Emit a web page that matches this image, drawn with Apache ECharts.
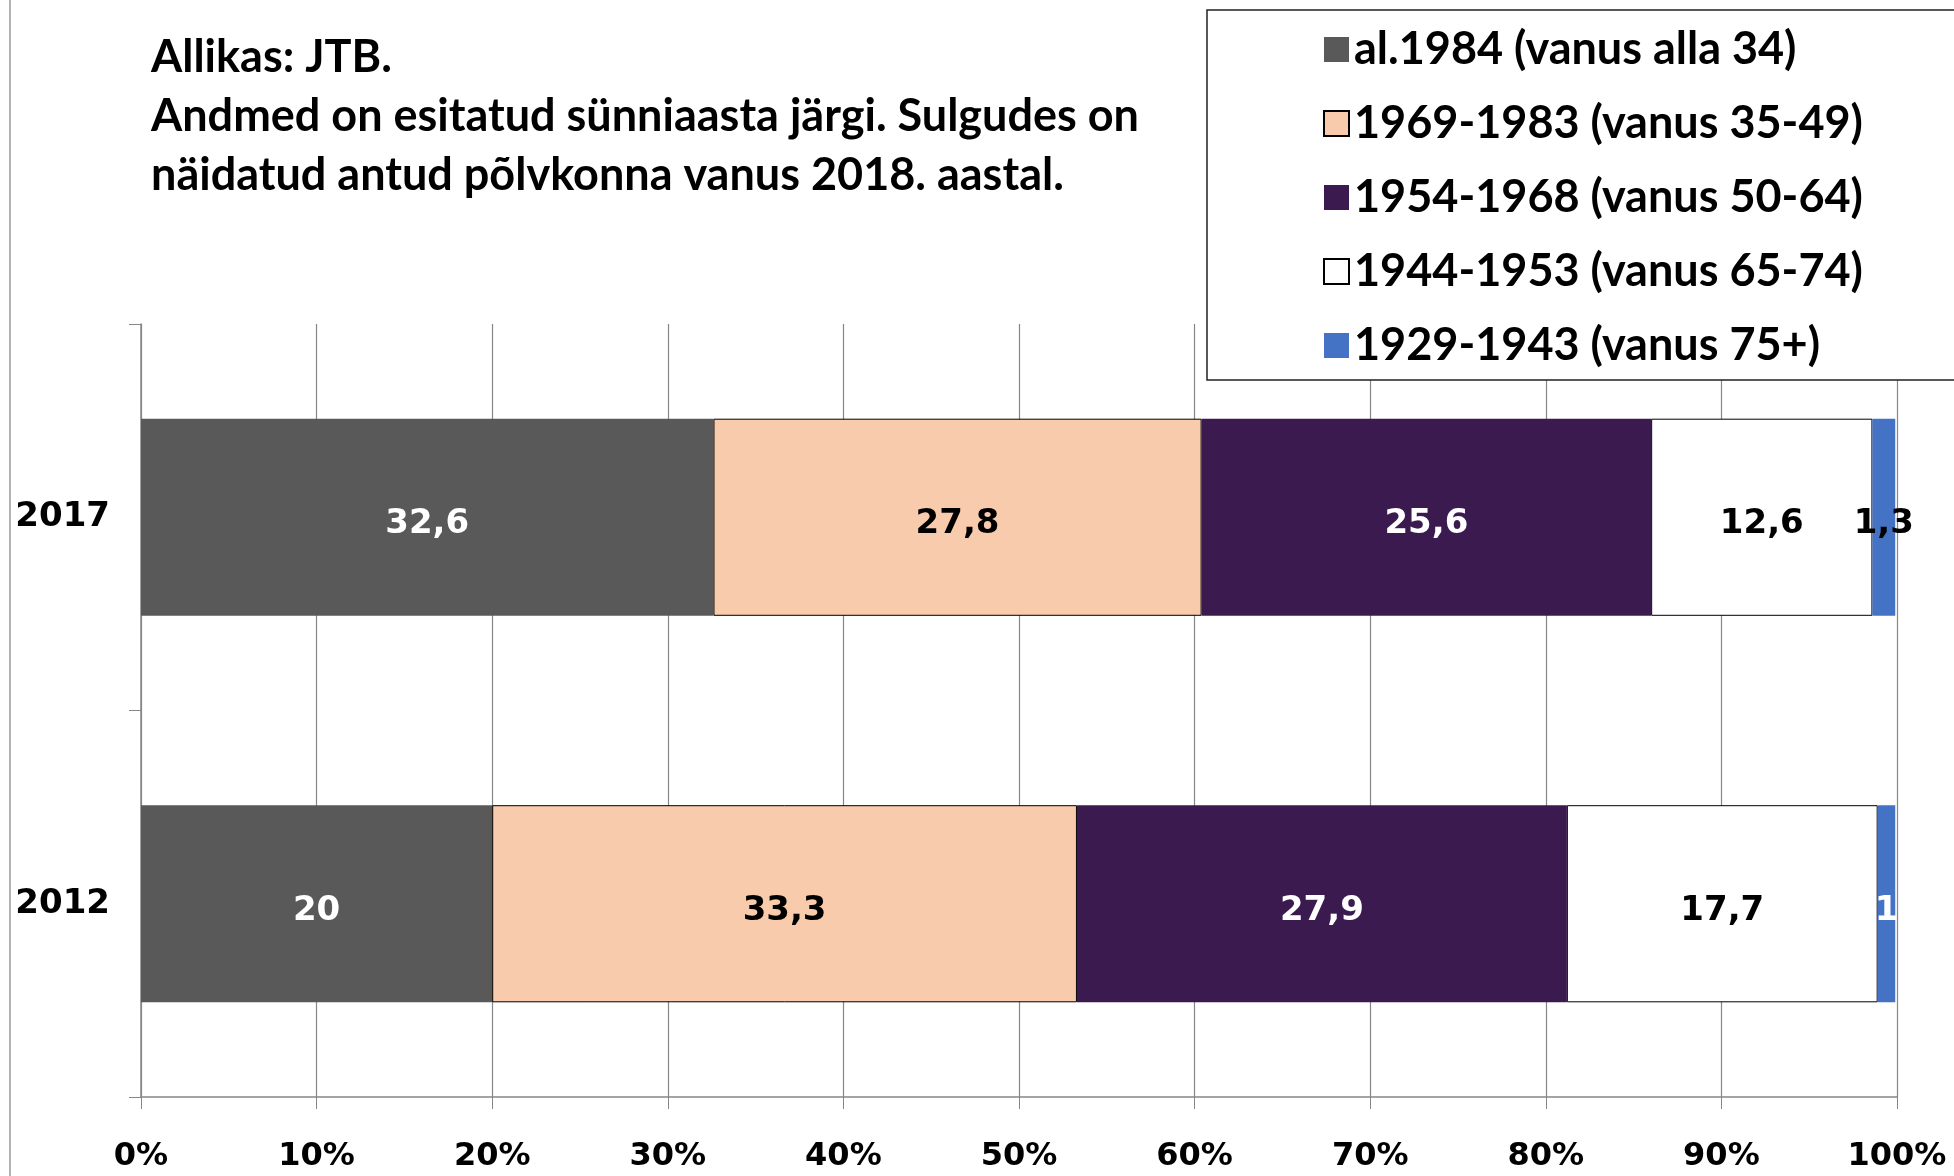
<!DOCTYPE html>
<html><head><meta charset="utf-8">
<script src="https://cdn.jsdelivr.net/npm/echarts@6/dist/echarts.min.js"></script>
<style>html,body{margin:0;padding:0;background:#fff}#c{width:1954px;height:1176px}</style>
</head><body><div id="c"></div>
<script>
const categories = ['2012', '2017'];
const seriesNames = ['al.1984 (vanus alla 34)', '1969-1983 (vanus 35-49)', '1954-1968 (vanus 50-64)', '1944-1953 (vanus 65-74)', '1929-1943 (vanus 75+)'];
const gen1984 = [20, 32.6];
const gen1969 = [33.3, 27.8];
const gen1954 = [27.9, 25.6];
const gen1944 = [17.7, 12.6];
const gen1929 = [1, 1.3];
const xTicks = [0, 10, 20, 30, 40, 50, 60, 70, 80, 90, 100];
const titleLines = ['Allikas: JTB.', 'Andmed on esitatud sünniaasta järgi. Sulgudes on', 'näidatud antud põlvkonna vanus 2018. aastal.'];

const colors = ['#595959', '#F8CBAD', '#3B1A4F', '#FFFFFF', '#4472C4'];
const borders = [null, '#000', null, '#000', null];
const labelColors = [['#fff','#fff'], ['#000','#000'], ['#fff','#fff'], ['#000','#000'], ['#fff','#000']];
const values = [gen1984, gen1969, gen1954, gen1944, gen1929];
const fmt = v => String(v).replace('.', ',');

const series = seriesNames.map((name, i) => ({
  name, type: 'bar', stack: 'total', barWidth: '51%',
  itemStyle: { color: colors[i], borderColor: borders[i] || colors[i], borderWidth: borders[i] ? 1 : 0 },
  label: { show: true, position: 'inside', offset: [0, 7], fontFamily: 'DejaVu Sans', fontWeight: 'bold', fontSize: 34,
           formatter: p => fmt(p.value) },
  data: values[i].map((v, j) => ({ value: v, label: { color: labelColors[i][j] } }))
}));

const chart = echarts.init(document.getElementById('c'), null, { renderer: 'canvas' });
chart.setOption({
  animation: false,
  backgroundColor: '#fff',
  title: { text: titleLines.join('\n'), left: 146, top: 23,
    textStyle: { fontFamily: 'Lato', fontWeight: 'bold', fontSize: 45, lineHeight: 59, color: '#000' } },
  legend: {
    orient: 'vertical', left: 1207, top: 10, padding: [17, 200, 12, 116],
    itemWidth: 25, itemHeight: 25, itemGap: 29, itemTextGap: 23,
    backgroundColor: '#fff', borderColor: '#222', borderWidth: 1.5, z: 10,
    textStyle: { fontFamily: 'Lato', fontWeight: 'bold', fontSize: 45, lineHeight: 40, color: '#000' },
    data: seriesNames.map(n => ({ name: n, icon: 'rect' }))
  },
  grid: { left: 141, right: 57, top: 324, bottom: 79, containLabel: false },
  xAxis: {
    type: 'value', min: 0, max: 100, interval: 10,
    axisLine: { show: true, lineStyle: { color: '#868686', width: 1.5 } },
    axisTick: { show: true, length: 12, lineStyle: { color: '#868686' } },
    splitLine: { show: true, lineStyle: { color: '#868686', width: 1.2 } },
    axisLabel: { margin: 44, formatter: '{value}%', fontFamily: 'DejaVu Sans', fontWeight: 'bold', fontSize: 32, color: '#000',
                 customValues: xTicks }
  },
  yAxis: {
    type: 'category', data: categories,
    axisLine: { show: true, lineStyle: { color: '#868686', width: 1.5 } },
    axisTick: { show: true, length: 12, lineStyle: { color: '#868686' } },
    axisLabel: { margin: 31, padding: [14, 0, 0, 0], fontFamily: 'DejaVu Sans', fontWeight: 'bold', fontSize: 34, color: '#000' }
  },
  graphic: [{ type: 'line', shape: { x1: 10, y1: 0, x2: 10, y2: 1176 }, style: { stroke: '#999', lineWidth: 1.5 } }],
  series
});
</script></body></html>
